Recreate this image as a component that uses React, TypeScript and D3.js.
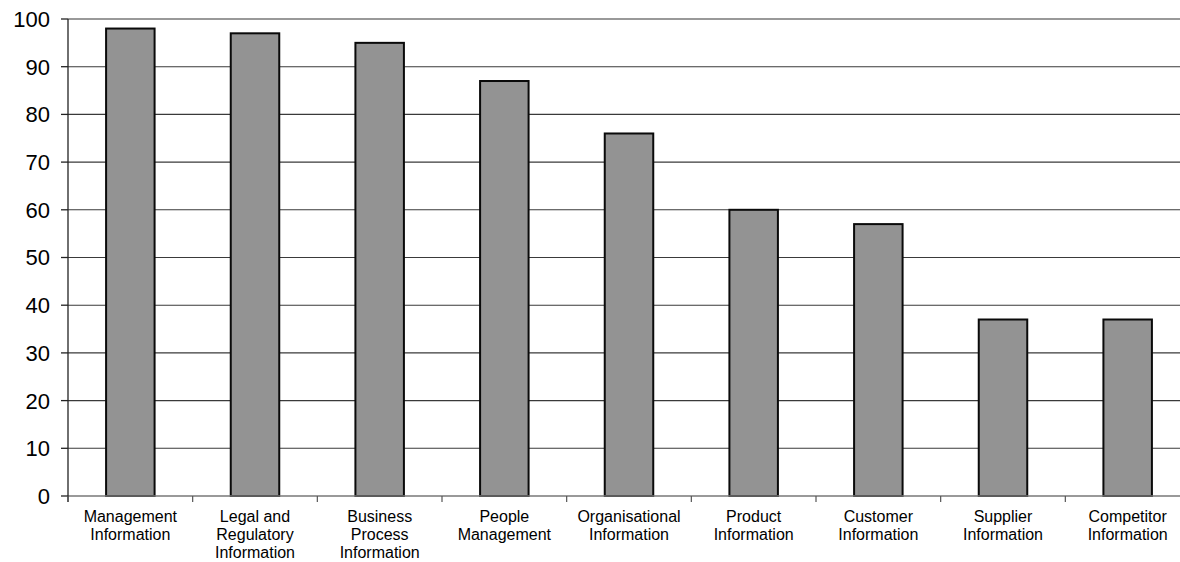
import React from "react";
import * as d3 from "d3";

const categories: string[][] = [
  ["Management", "Information"],
  ["Legal and", "Regulatory", "Information"],
  ["Business", "Process", "Information"],
  ["People", "Management"],
  ["Organisational", "Information"],
  ["Product", "Information"],
  ["Customer", "Information"],
  ["Supplier", "Information"],
  ["Competitor", "Information"],
];
const values: number[] = [98, 97, 95, 87, 76, 60, 57, 37, 37];
const yTicks: number[] = [0, 10, 20, 30, 40, 50, 60, 70, 80, 90, 100];

export default function App() {
  const W = 1180, H = 562;
  const left = 68, right = 1190, top = 19, bottom = 496;
  const keys = categories.map((_, i) => String(i));
  const x = d3.scaleBand<string>().domain(keys).range([left, right]).paddingInner(0).paddingOuter(0);
  const y = d3.scaleLinear().domain([0, 100]).range([bottom, top]);
  const bw = 48.5;
  const font = "Arial, 'Liberation Sans', Helvetica, sans-serif";
  return (
    <svg width={W} height={H} style={{ position: "absolute", left: 0, top: 0, background: "#fff" }}>
      <rect x={0} y={0} width={W} height={H} fill="#fff" />
      {yTicks.filter(t => t > 0 && t < 100).map(t => (
        <line key={t} x1={left} x2={W} y1={y(t)} y2={y(t)} stroke="#3a3a3a" strokeWidth={1.1} />
      ))}
      <line x1={left} x2={W} y1={y(100)} y2={y(100)} stroke="#999" strokeWidth={2} />
      {values.map((v, i) => {
        const cx = (x(String(i)) as number) + x.bandwidth() / 2;
        return (
          <rect key={i} x={cx - bw / 2} y={y(v)} width={bw} height={bottom - y(v)}
            fill="#939393" stroke="#0a0a0a" strokeWidth={2} />
        );
      })}
      <line x1={left} x2={W} y1={bottom} y2={bottom} stroke="#777" strokeWidth={1.5} />
      <line x1={left} x2={left} y1={top} y2={bottom + 6} stroke="#222" strokeWidth={1.3} />
      {yTicks.map(t => (
        <g key={t}>
          <line x1={left - 7} x2={left} y1={y(t)} y2={y(t)} stroke="#222" strokeWidth={1.3} />
          <text x={50} y={y(t)} dy="0.36em" textAnchor="end" fontFamily={font} fontSize={22} fill="#000">{t}</text>
        </g>
      ))}
      {keys.map((k) => (
        <line key={"t" + k} x1={(x(k) as number)} x2={(x(k) as number)} y1={bottom} y2={bottom + 6} stroke="#555" strokeWidth={1.2} />
      ))}
      {categories.map((lines, i) => {
        const cx = (x(String(i)) as number) + x.bandwidth() / 2;
        return (
          <text key={"c" + i} x={cx} y={522} textAnchor="middle" fontFamily={font} fontSize={16} fill="#000">
            {lines.map((l, j) => (
              <tspan key={j} x={cx} y={522 + j * 18}>{l}</tspan>
            ))}
          </text>
        );
      })}
    </svg>
  );
}
